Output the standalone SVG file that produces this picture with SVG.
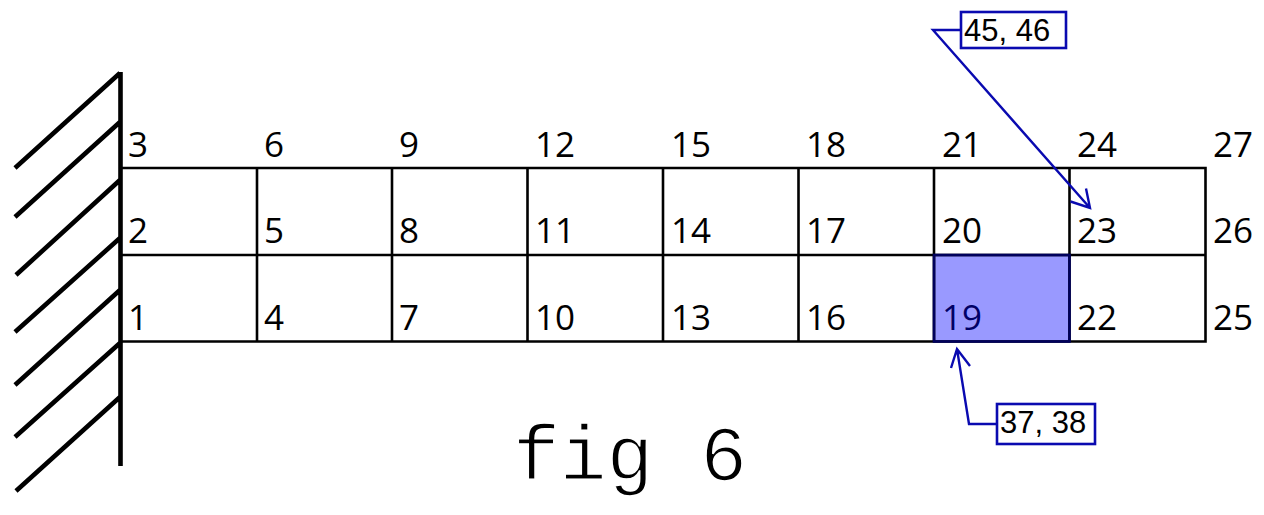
<svg xmlns="http://www.w3.org/2000/svg" width="1264" height="515" viewBox="0 0 1264 515">
<style>
.g{fill:none;stroke:#000;stroke-width:2.6}
.w{fill:none;stroke:#000;stroke-width:4.6}
.b{fill:none;stroke:#0a0ab0;stroke-width:2.4}
.box{fill:#fff;stroke:#0a0ab0;stroke-width:2.6}
.n{font-family:"Open Sans","Noto Sans",sans-serif;font-size:35px;fill:#000}
.s{fill:#000066}
.l{font-family:"Liberation Sans",Arial,sans-serif;font-size:31px;fill:#000}
.f{font-family:"Liberation Mono","Courier New",monospace;font-size:78px;fill:#000;stroke:#fff;stroke-width:1.6px;paint-order:fill stroke}
</style>
<rect width="1264" height="515" fill="#fff"/>
<g id="wall">
<path class="w" d="M120.500 72V466M120 73L15 168M120 122L15 217M120 180L16 275M120 238L15 332M120 290L15 385M120 343L15 437M120 397L16 491"/>
</g>
<g id="grid">
<rect id="element-19" x="934" y="255" width="135.500" height="86.500" fill="#9999ff"/>
<path class="g" d="M121 168H1205.500V341.500H121M121 255H1205.500M257 168V341.500M392 168V341.500M527.500 168V341.500M663 168V341.500M798.500 168V341.500M934 168V341.500M1069.500 168V341.500"/>
<rect x="934" y="255" width="135.500" height="86.500" fill="none" stroke="#00005c" stroke-width="2.600"/>
</g>
<g id="labels">
<text class="n" x="128" y="157">3</text><text class="n" x="264" y="157">6</text><text class="n" x="399" y="157">9</text><text class="n" x="535" y="157">12</text><text class="n" x="671" y="157">15</text><text class="n" x="806" y="157">18</text><text class="n" x="942" y="157">21</text><text class="n" x="1077" y="157">24</text><text class="n" x="1213" y="157">27</text>
<text class="n" x="128" y="243">2</text><text class="n" x="264" y="243">5</text><text class="n" x="399" y="243">8</text><text class="n" x="535" y="243">11</text><text class="n" x="671" y="243">14</text><text class="n" x="806" y="243">17</text><text class="n" x="942" y="243">20</text><text class="n" x="1077" y="243">23</text><text class="n" x="1213" y="243">26</text>
<text class="n" x="128" y="330">1</text><text class="n" x="264" y="330">4</text><text class="n" x="399" y="330">7</text><text class="n" x="535" y="330">10</text><text class="n" x="671" y="330">13</text><text class="n" x="806" y="330">16</text><text class="n s" x="942" y="330">19</text><text class="n" x="1077" y="330">22</text><text class="n" x="1213" y="330">25</text>
</g>
<g id="connectors">
<path class="b" d="M961 30H933L1090 208M1070.500 201.500L1090 208L1086 188.500"/>
<path class="b" d="M998 424H969L957 349M951 368L957 349L970 366"/>
</g>
<g id="callout-45-46">
<rect class="box" x="961" y="12" width="105" height="36"/>
<text class="l" x="964" y="41">45, 46</text>
</g>
<g id="callout-37-38">
<rect class="box" x="997" y="404" width="98" height="40"/>
<text class="l" x="1000" y="433">37, 38</text>
</g>
<g id="caption">
<text class="f" x="513" y="480">fig 6</text>
</g>
</svg>
